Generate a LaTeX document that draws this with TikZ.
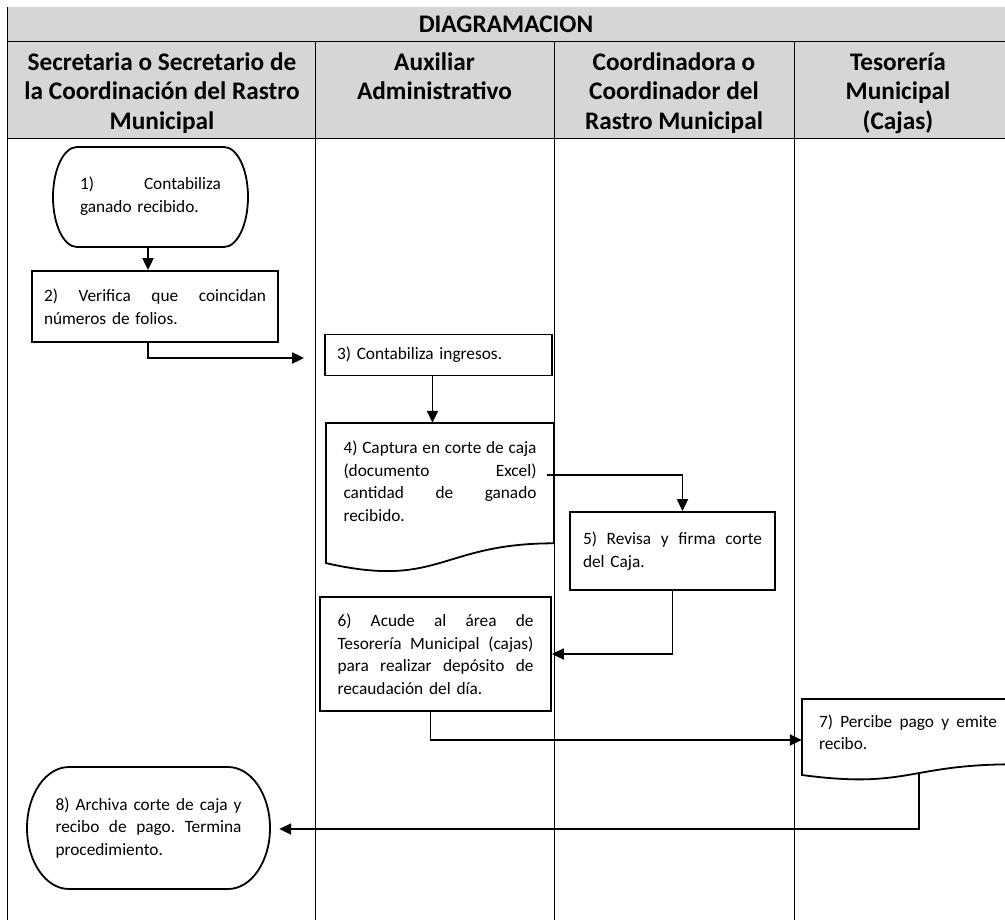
\documentclass[tikz,border=0pt]{standalone}
\usepackage{fontspec}
\setmainfont{Carlito}
\usetikzlibrary{arrows.meta,calc}
\definecolor{hdrgray}{RGB}{214,214,214}
\newcommand\jl[1]{\leavevmode\hbox to \hsize{\spaceskip=0.226em plus 1fil\relax\xspaceskip=0.226em plus 1fil\relax #1}}
\begin{document}
\begin{tikzpicture}[x=1pt,y=-1pt,
  lane/.style={line width=0.9pt},
  shapeline/.style={line width=1.8pt},
  txt/.style={font=\fontsize{17.3}{22.5}\selectfont,align=left,inner sep=0pt},
  box/.style={txt,draw,line width=1.8pt},
  hdr/.style={font=\bfseries\fontsize{25.3}{29.5}\selectfont,align=center,inner sep=0pt},
  arr/.style={line width=1.8pt,-{Triangle[length=12pt,width=11pt]}}]
\useasboundingbox (0,0) rectangle (1005,922);
\clip (0,0) rectangle (1005,922);
\fill[white] (0,0) rectangle (1005,922);
% header
\fill[hdrgray] (7,7) rectangle (1005,138);
\draw[lane] (7,7) -- (7,920);
\draw[lane] (7,41) -- (1005,41);
\draw[lane] (7,138) -- (1005,138);
\draw[lane] (315,41) -- (315,920);
\draw[lane] (554,41) -- (554,920);
\draw[lane] (794,41) -- (794,920);
\node[hdr] (title) at (506,24) {DIAGRAMACION};
\node[hdr,anchor=base] (h1) at (162,129) {Secretaria o Secretario de\\la Coordinación del Rastro\\Municipal};
\node[hdr,anchor=base] (h2) at (434.5,99.5) {Auxiliar\\Administrativo};
\node[hdr,anchor=base] (h3) at (674,129) {Coordinadora o\\Coordinador del\\Rastro Municipal};
\node[hdr,anchor=base] (h4) at (898,129) {Tesorería\\Municipal\\(Cajas)};
% node 1 (terminal)
\node[txt,text width=141pt,minimum width=195pt,minimum height=100pt] (n1) at (150.5,196) {\jl{1) Contabiliza}\\ganado recibido.};
\draw[shapeline] (77,147) -- (224,147) arc[start angle=90,end angle=-90,x radius=24pt,y radius=50pt]
  -- (77,247) arc[start angle=270,end angle=90,x radius=24pt,y radius=50pt] -- cycle;
% node 2
\node[box,text width=222pt,minimum width=246pt,minimum height=71pt] (n2) at (155,306.5) {\jl{2) Verifica que coincidan}\\números de folios.};
% node 3
\node[box,text width=203pt,minimum width=227pt,minimum height=41pt] (n3) at (438.5,355) {3) Contabiliza ingresos.};
% node 4 (document)
\node[txt,text width=193pt,minimum width=228pt,minimum height=116pt] (n4) at (440,481) {\jl{4) Captura en corte de caja}\\\jl{(documento Excel)}\\\jl{cantidad de ganado}\\recibido.};
\draw[shapeline] (326,423) -- (554,423) -- (554,543.3) .. controls (440,543.3) and (440,589.1) .. (326,563.1) -- cycle;
% node 5
\node[box,text width=179pt,minimum width=205pt,minimum height=78pt] (n5) at (672.5,551) {\jl{5) Revisa y firma corte}\\del Caja.};
% node 6
\node[box,text width=196pt,minimum width=231pt,minimum height=114pt] (n6) at (435.5,654) {\jl{6) Acude al área de}\\\jl{Tesorería Municipal (cajas)}\\\jl{para realizar depósito de}\\recaudación del día.};
% node 7 (document)
\node[txt,text width=178pt,minimum width=212pt,minimum height=65pt] (n7) at (908,732) {\jl{7) Percibe pago y emite}\\recibo.};
\draw[shapeline] (802,699) -- (1014,699) -- (1014,764.3) .. controls (908,764.3) and (908,789.2) .. (802,775) -- cycle;
% node 8 (terminal)
\node[txt,text width=186pt,minimum width=243pt,minimum height=122pt] (n8) at (148.5,828) {\jl{8) Archiva corte de caja y}\\\jl{recibo de pago. Termina}\\procedimiento.};
\draw[shapeline] (69,767) -- (228,767) arc[start angle=90,end angle=-90,x radius=42pt,y radius=61pt]
  -- (69,889) arc[start angle=270,end angle=90,x radius=42pt,y radius=61pt] -- cycle;
% connectors
\coordinate (c45) at (547,475);
\coordinate (c78) at (919,773);
\draw[arr] ([xshift=-2.5pt]n1.south) -- ([xshift=-2.5pt]n1.south |- n2.north);
\draw[arr] ([xshift=-2.5pt]n1.south |- n2.south) |- ([xshift=-20pt,yshift=-3pt]n3.west);
\draw[arr] ([xshift=-6pt]n3.south) -- ([xshift=-6pt]n3.south |- n4.north);
\draw[arr] (c45) -| ([xshift=10pt]n5.north);
\draw[arr] (n5.south) |- (n6.east);
\draw[arr] ([xshift=-5pt]n6.south) |- ([yshift=-8pt]n7.west);
\draw[arr] (c78) |- ([xshift=9pt,yshift=-1pt]n8.east);
\end{tikzpicture}
\end{document}
